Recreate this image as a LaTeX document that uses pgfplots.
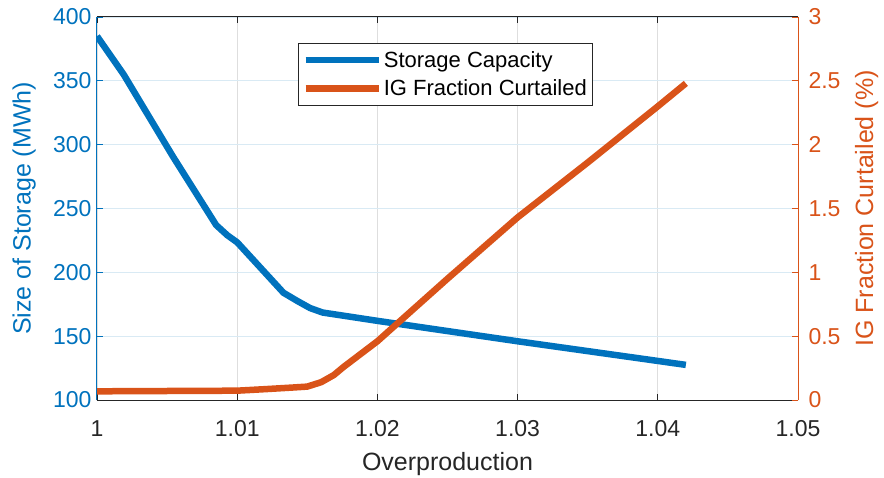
\documentclass[border=0pt]{standalone}
\usepackage{fontspec}
\setmainfont{Liberation Sans}
\usepackage{pgfplots}
\pgfplotsset{compat=1.18}
\definecolor{mblue}{RGB}{0,114,189}
\definecolor{morange}{RGB}{217,83,25}
\definecolor{mgrid}{RGB}{222,222,222}
\definecolor{mgridb}{RGB}{217,234,244}
\definecolor{maxis}{RGB}{38,38,38}
\begin{document}
\begin{tikzpicture}
\pgfplotsset{
  every axis/.append style={
    scale only axis, width=701bp, height=383bp,
    xmin=1, xmax=1.05,
    tick align=inside,
    major tick length=6bp,
    /pgf/number format/assume math mode=true,
    tick label style={font=\fontsize{23bp}{27bp}\selectfont},
    label style={font=\fontsize{25bp}{30bp}\selectfont},
  }
}
\begin{axis}[
  axis x line*=box, axis y line*=left,
  x axis line style={maxis, line width=1bp, -},
  y axis line style={mblue, line width=1bp, -},
  ymin=100, ymax=400,
  xtick={1,1.01,1.02,1.03,1.04,1.05},
  xticklabels={1,1.01,1.02,1.03,1.04,1.05},
  ytick={100,150,200,250,300,350,400},
  yticklabels={100,150,200,250,300,350,400},
  xtick style={maxis, line width=0.8bp},
  ytick style={mblue, line width=0.8bp},
  xticklabel style={text=maxis, yshift=-17bp},
  yticklabel style={text=mblue, xshift=-2bp},
  xmajorgrids, ymajorgrids,
  x grid style={mgrid, line width=0.8bp},
  y grid style={mgridb, line width=0.8bp},
  xlabel={Overproduction},
  ylabel={Size of Storage (MWh)},
  xlabel style={text=maxis, at={(axis description cs:0.5,-0.185)}, anchor=base},
  ylabel style={text=mblue, at={(axis description cs:-0.104,0.5)}, anchor=center},
]
\coordinate (bl) at (rel axis cs:0,0);
\coordinate (tr) at (rel axis cs:1,1);
\addplot[mblue, line width=6.5bp, line join=round] coordinates {
(1.000,385) (1.0019,355) (1.0054,291) (1.0085,237) (1.0093,229) (1.0100,223.5)
(1.0133,184) (1.0143,177.5) (1.0152,172) (1.0161,168.5) (1.0200,162) (1.0300,146) (1.0400,130.6) (1.0420,127.5)
};
\end{axis}
\begin{axis}[
  axis x line=none, axis y line*=right,
  y axis line style={morange, line width=1bp, -},
  ymin=0, ymax=3,
  ytick={0,0.5,1,1.5,2,2.5,3},
  yticklabels={0,0.5,1,1.5,2,2.5,3},
  ytick style={morange, line width=0.8bp},
  yticklabel style={text=morange, xshift=7bp},
  ylabel={IG Fraction Curtailed (\%)},
  ylabel style={text=morange, at={(axis description cs:1.098,0.5)}, anchor=center},
  legend style={at={(axis description cs:0.2867,0.932)}, anchor=north west,
    font=\fontsize{22bp}{26bp}\selectfont, draw=maxis, line width=0.8bp,
    inner xsep=4bp, inner ysep=6bp, row sep=7bp, fill=white},
  legend cell align=left,
  legend image code/.code={\draw[#1, line width=6.5bp] (0bp,0bp) -- (73bp,0bp);},
]
\addlegendimage{mblue}
\addlegendentry{Storage Capacity}
\addplot[morange, line width=6.5bp, line join=round] coordinates {
(1,0.068) (1.01,0.073) (1.012,0.085) (1.014,0.098) (1.015,0.105) (1.016,0.14)
(1.0169,0.196) (1.0176,0.26) (1.02,0.46) (1.025,0.95) (1.03,1.43) (1.035,1.86)
(1.04,2.30) (1.042,2.48)
};
\addlegendentry{IG Fraction Curtailed}
\end{axis}
\pgfresetboundingbox
\path ([shift={(-97bp,-78bp)}]bl) rectangle ([shift={(86bp,17bp)}]tr);
\end{tikzpicture}
\end{document}
